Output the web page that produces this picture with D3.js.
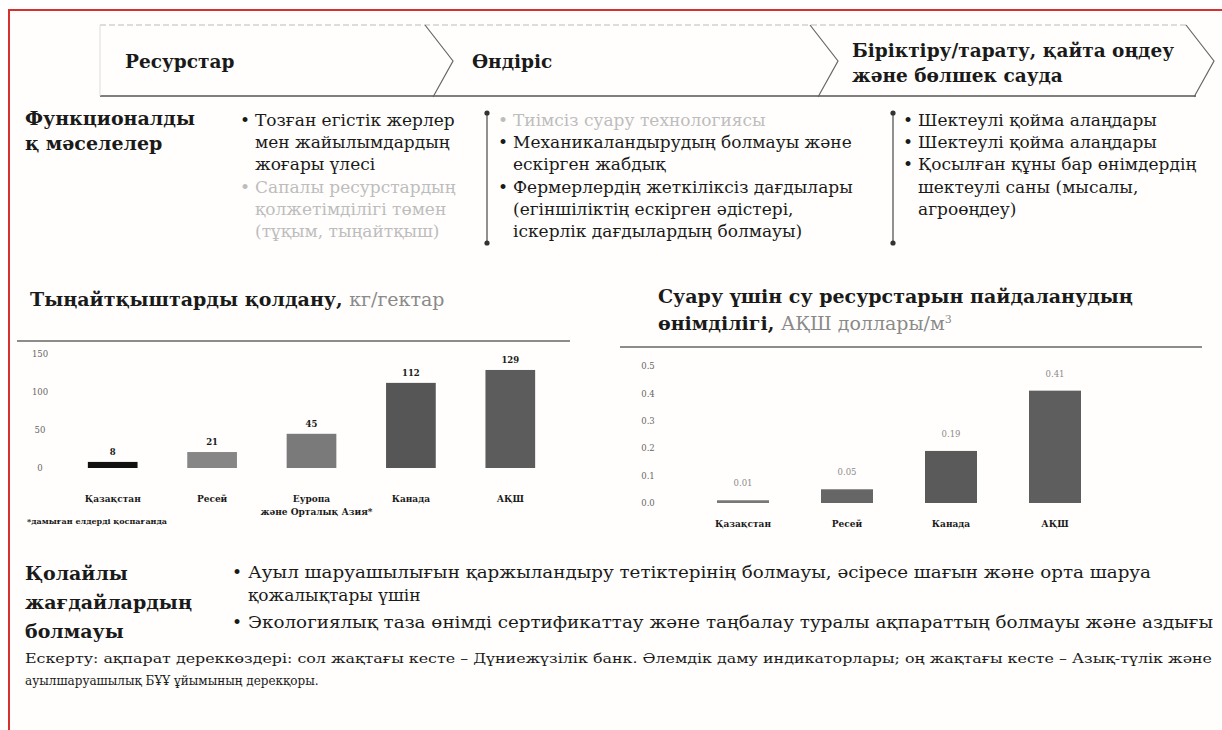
<!DOCTYPE html>
<html lang="en">
<head>
<meta charset="UTF-8">
<title>Агроөнеркәсіп кешені: мәселелер</title>
<script src="https://d3js.org/d3.v7.min.js"></script>
<style>
  body { margin: 0; background: #fff; }
  svg text { font-family: "DejaVu Serif", serif; fill: #1a1a1a; }
  .bold { font-weight: bold; }
  .faded { fill: #bdbdbd; }
  .unit { font-weight: normal; fill: #8a8a8a; }
  .tick text { fill: #666; }
</style>
</head>
<body>
<div id="chart"></div>
<script>
// ---- data ----
const stages = ["Ресурстар", "Өндіріс", "Біріктіру/тарату, қайта оңдеу|және бөлшек сауда"];

const issues = [
  [{ lines: ["Тозған егістік жерлер", "мен жайылымдардың", "жоғары үлесі"] },
   { lines: ["Сапалы ресурстардың", "қолжетімділігі төмен", "(тұқым, тыңайтқыш)"], faded: true }],
  [{ lines: ["Тиімсіз суару технологиясы"], faded: true },
   { lines: ["Механикаландырудың болмауы және", "ескірген жабдық"] },
   { lines: ["Фермерлердің жеткіліксіз дағдылары", "(егіншіліктің ескірген әдістері,", "іскерлік дағдылардың болмауы)"] }],
  [{ lines: ["Шектеулі қойма алаңдары"] },
   { lines: ["Шектеулі қойма алаңдары"] },
   { lines: ["Қосылған құны бар өнімдердің", "шектеулі саны (мысалы,", "агроөңдеу)"] }]
];

const fertCategories = ["Қазақстан", "Ресей", "Еуропа|және Орталық Азия*", "Канада", "АҚШ"];
const fertValues = [8, 21, 45, 112, 129];
const fertTicks = [0, 50, 100, 150];

const waterCategories = ["Қазақстан", "Ресей", "Канада", "АҚШ"];
const waterValues = [0.01, 0.05, 0.19, 0.41];
const waterTicks = [0, 0.1, 0.2, 0.3, 0.4, 0.5];

const conditions = [
  ["Ауыл шаруашылығын қаржыландыру тетіктерінің болмауы, әсіресе шағын және орта шаруа", "қожалықтары үшін"],
  ["Экологиялық таза өнімді сертификаттау және таңбалау туралы ақпараттың болмауы және аздығы"]
];

const note = ["Ескерту: ақпарат дереккөздері: сол жақтағы кесте – Дүниежүзілік банк. Әлемдік даму индикаторлары; оң жақтағы кесте – Азық-түлік және",
  "ауылшаруашылық БҰҰ ұйымының дерекқоры."];

// ---- drawing ----
const W = 1222, H = 730;

const svg = d3.select("#chart").append("svg")
  .attr("width", W).attr("height", H);

svg.append("rect").attr("width", W).attr("height", H).attr("fill", "#fff");
svg.append("rect").attr("x", 9).attr("y", 10).attr("width", W + 20).attr("height", H + 20)
  .attr("fill", "#fffefc").attr("stroke", "#d6312f").attr("stroke-width", 2);

// text helper, optional fixed length
function txt(g, x, y, s, size, cls, anchor, len) {
  const t = g.append("text")
    .attr("x", x).attr("y", y)
    .attr("font-size", size)
    .attr("text-anchor", anchor || "start")
    .attr("class", cls || null)
    .text(s);
  if (len) t.attr("textLength", len).attr("lengthAdjust", "spacingAndGlyphs");
  return t;
}

// header chevrons
const head = svg.append("g");
head.append("line").attr("x1", 100).attr("x2", 1186).attr("y1", 25).attr("y2", 25)
  .attr("stroke", "#bbb").attr("stroke-dasharray", "6,3");
head.append("line").attr("x1", 100).attr("x2", 1196).attr("y1", 96).attr("y2", 96)
  .attr("stroke", "#555").attr("stroke-width", 1.3);
head.append("line").attr("x1", 100).attr("x2", 100).attr("y1", 25).attr("y2", 96)
  .attr("stroke", "#ddd");
[425, 810, 1186].forEach(x => {
  head.append("path")
    .attr("d", "M" + x + ",25 L" + (x + 28) + ",61 L" + (x + 8) + ",97")
    .attr("fill", "none").attr("stroke", "#666").attr("stroke-width", 1.2);
});
const stageX = [125, 472, 852];
stages.forEach((s, i) => {
  const parts = s.split("|");
  const y0 = parts.length > 1 ? 57 : 68;
  parts.forEach((p, j) => txt(head, stageX[i], y0 + j * 25, p, 18.5, "bold"));
});

// functional issues
const sec1 = svg.append("g");
txt(sec1, 25, 125, "Функционалды", 19, "bold");
txt(sec1, 25, 150, "қ мәселелер", 19, "bold");
const colX = [240, 498, 903];
issues.forEach((col, c) => {
  let row = 0;
  col.forEach(item => {
    item.lines.forEach((line, k) => {
      const y = 126 + row * 22.2;
      if (k === 0) txt(sec1, colX[c], y, "•", 17, item.faded ? "faded" : null);
      txt(sec1, colX[c] + 15, y, line, 17, item.faded ? "faded" : null);
      row++;
    });
  });
});
[487, 893].forEach(x => {
  sec1.append("line").attr("x1", x).attr("x2", x).attr("y1", 113).attr("y2", 243)
    .attr("stroke", "#555").attr("stroke-width", 1.3);
  [113, 243].forEach(y => sec1.append("circle").attr("cx", x).attr("cy", y).attr("r", 2.6).attr("fill", "#333"));
});

// bar chart helper
function barChart(cfg) {
  const g = svg.append("g");
  const x = d3.scaleBand().domain(cfg.cats).range(cfg.xr).paddingInner(0.5).paddingOuter(0.25);
  const y = d3.scaleLinear().domain([0, cfg.max]).range(cfg.yr);
  const color = d3.scaleOrdinal(cfg.cats, cfg.colors);

  const ax = g.append("g").attr("transform", "translate(" + cfg.axisX + ",0)")
    .call(d3.axisLeft(y).tickValues(cfg.ticks).tickSize(0).tickFormat(cfg.fmt));
  ax.select(".domain").remove();
  ax.selectAll("text").attr("font-size", 8.5).attr("text-anchor", "middle").attr("x", 0)
    .attr("dy", "0.32em");

  g.selectAll("rect.bar").data(cfg.vals).join("rect").attr("class", "bar")
    .attr("x", (d, i) => x(cfg.cats[i]))
    .attr("width", x.bandwidth())
    .attr("y", d => y(d))
    .attr("height", d => y(0) - y(d))
    .attr("fill", (d, i) => color(cfg.cats[i]));

  cfg.vals.forEach((v, i) => {
    const cx = x(cfg.cats[i]) + x.bandwidth() / 2;
    txt(g, cx, y(v) - cfg.labelGap, cfg.valFmt(v), 8.5, cfg.valCls, "middle");
    cfg.cats[i].split("|").forEach((p, j) =>
      txt(g, cx + (j ? 5 : 0), cfg.catY + j * 13, p, 9, "bold", "middle"));
  });
  return g;
}

// left chart: fertilizers
const c1 = svg.append("g");
const t1 = c1.append("text").attr("x", 30).attr("y", 306).attr("font-size", 19);
t1.append("tspan").attr("class", "bold").text("Тыңайтқыштарды қолдану, ");
t1.append("tspan").attr("class", "unit").text("кг/гектар");
c1.append("line").attr("x1", 17).attr("x2", 570).attr("y1", 341).attr("y2", 341)
  .attr("stroke", "#666").attr("stroke-width", 1.5);

barChart({
  cats: fertCategories, vals: fertValues, ticks: fertTicks, max: 150,
  xr: [63, 560], yr: [468, 354], axisX: 40, fmt: d3.format("d"),
  colors: ["#111", "#868686", "#7a7a7a", "#565656", "#5c5c5c"],
  valFmt: d3.format("d"), valCls: "bold", labelGap: 7, catY: 502
});
txt(c1, 27, 524, "*дамыған елдерді қоспағанда", 8, "bold");

// right chart: water productivity
const c2 = svg.append("g");
txt(c2, 658, 303, "Суару үшін су ресурстарын пайдаланудың", 19, "bold");
const t2 = c2.append("text").attr("x", 658).attr("y", 330).attr("font-size", 19);
t2.append("tspan").attr("class", "bold").text("өнімділігі, ");
t2.append("tspan").attr("class", "unit").text("АҚШ доллары/м");
t2.append("tspan").attr("class", "unit").attr("font-size", 11).attr("dy", -7).text("3");
c2.append("line").attr("x1", 620).attr("x2", 1202).attr("y1", 347).attr("y2", 347)
  .attr("stroke", "#666").attr("stroke-width", 1.5);

barChart({
  cats: waterCategories, vals: waterValues, ticks: waterTicks, max: 0.5,
  xr: [691, 1107], yr: [503, 366], axisX: 648, fmt: d3.format(".1f"),
  colors: ["#777", "#666", "#5a5a5a", "#5e5e5e"],
  valFmt: d3.format(".2f"), valCls: "unit", labelGap: 14, catY: 527
});

// unfavourable conditions
const sec3 = svg.append("g");
["Қолайлы", "жағдайлардың", "болмауы"].forEach((s, i) => txt(sec3, 25, 580 + i * 29, s, 19, "bold"));
const condLen = [[903, 0], [965]];
let cy = 578;
conditions.forEach((c, i) => {
  txt(sec3, 232, cy, "•", 17);
  c.forEach((line, j) => {
    txt(sec3, 248, cy, line, 17, null, "start", condLen[i][j] || null);
    cy += 23;
  });
  cy += 4;
});

// note
txt(svg, 25, 663, note[0], 12, null, "start", 1187);
txt(svg, 25, 685, note[1], 12);
</script>
</body>
</html>
